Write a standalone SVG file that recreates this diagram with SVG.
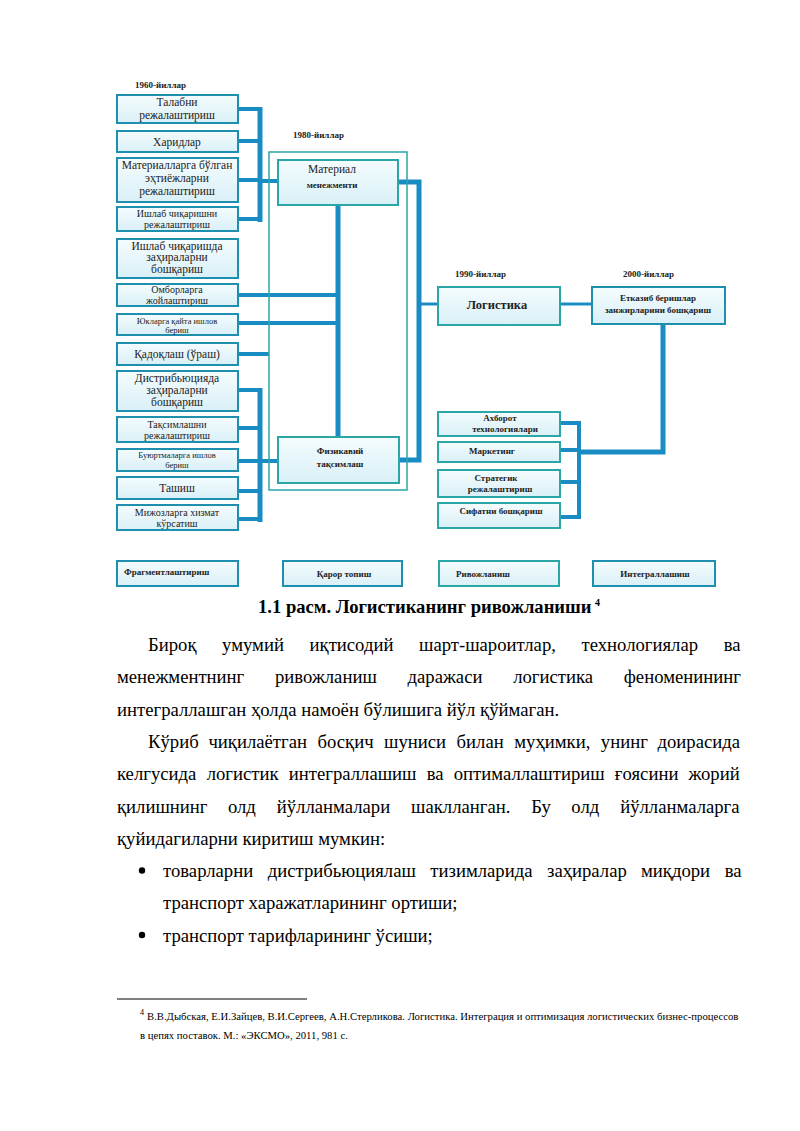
<svg xmlns="http://www.w3.org/2000/svg" width="800" height="1131" viewBox="0 0 800 1131">
<defs>
<linearGradient id="bg" x1="0" y1="0" x2="0" y2="1">
<stop offset="0" stop-color="#f4fcfe"/>
<stop offset="1" stop-color="#d9f0f7"/>
</linearGradient>
<style>
.box{fill:url(#bg);stroke:#1f8fb0;stroke-width:2}
.boxg{fill:url(#bg);stroke:#2aa6a6;stroke-width:2}
.frame{fill:none;stroke:#2aa6a6;stroke-width:1.5}
.t{font-family:"Liberation Serif","DejaVu Serif",serif;font-size:11.5px;fill:#222;text-anchor:middle}
.ts{font-family:"Liberation Serif","DejaVu Serif",serif;font-size:8.5px;fill:#222;text-anchor:middle}
.tm{font-family:"Liberation Serif","DejaVu Serif",serif;font-size:10px;fill:#222;text-anchor:middle}
.tb{font-family:"Liberation Serif","DejaVu Serif",serif;font-size:9px;font-weight:bold;fill:#222;text-anchor:middle}
.yr{font-family:"Liberation Serif","DejaVu Serif",serif;font-size:9px;font-weight:bold;fill:#222}
.c{stroke:#1a8cc4;fill:none;stroke-linecap:butt;stroke-linejoin:miter}
.w5{stroke-width:5}
.w4{stroke-width:4}
.w3{stroke-width:3}
.body{font-family:"Liberation Serif","DejaVu Serif",serif;font-size:18.7px;fill:#000}
.cap{font-family:"Liberation Serif","DejaVu Serif",serif;font-size:18.6px;font-weight:bold;fill:#000}
.fn{font-family:"Liberation Serif","DejaVu Serif",serif;font-size:10.7px;fill:#000}
</style>
</defs>
<rect width="800" height="1131" fill="#fff"/>

<!-- year labels -->
<text class="yr" x="135" y="88">1960-йиллар</text>
<text class="yr" x="293" y="138">1980-йиллар</text>
<text class="yr" x="455" y="277">1990-йиллар</text>
<text class="yr" x="623" y="277">2000-йиллар</text>

<!-- connectors -->
<g id="connectors">
<path class="c w5" d="M260 107V222"/>
<path class="c w4" d="M238 109H260M238 141H260M238 180H260M238 219H260M260 181H278"/>
<path class="c w5" d="M338 205V437"/>
<path class="c w4" d="M238 295H338M238 323H338"/>
<path class="c w4" d="M238 354H269"/>
<path class="c w5" d="M260 388V522"/>
<path class="c w4" d="M238 390H260M238 428H260M238 461H260M238 491H260M238 519H260M260 461H278"/>
<path class="c w5" d="M398 182H419V460H399"/>
<path class="c w3" d="M419 304H438"/>
<path class="c w3" d="M560 304H592"/>
<path class="c w5" d="M663 324V452H579"/>
<path class="c w4" d="M560 423H579V517H560M560 450H579M560 482H579"/>
</g>

<rect class="frame" x="269" y="152" width="138" height="338"/>

<!-- left column nodes -->
<g id="n1"><rect class="box" x="117" y="95" width="121" height="28"/><text class="t" x="177" y="106">Талабни</text><text class="t" x="177" y="118.5">режалаштириш</text></g>
<g id="n2"><rect class="box" x="117" y="131" width="121" height="21"/><text class="t" x="177" y="145.5">Харидлар</text></g>
<g id="n3"><rect class="box" x="117" y="158" width="121" height="44"/><text class="t" x="177" y="169">Материалларга бўлган</text><text class="t" x="177" y="181.5">эҳтиёжларни</text><text class="t" x="177" y="194.5">режалаштириш</text></g>
<g id="n4"><rect class="box" x="117" y="207" width="121" height="24"/><text class="tm" x="177" y="217">Ишлаб чиқаришни</text><text class="tm" x="177" y="228">режалаштириш</text></g>
<g id="n5"><rect class="box" x="117" y="239" width="121" height="39"/><text class="t" x="177" y="249.5">Ишлаб чиқаришда</text><text class="t" x="177" y="261">заҳираларни</text><text class="t" x="177" y="273">бошқариш</text></g>
<g id="n6"><rect class="box" x="117" y="284" width="121" height="22"/><text class="tm" x="177" y="293">Омборларга</text><text class="tm" x="177" y="303.5">жойлаштириш</text></g>
<g id="n7"><rect class="box" x="117" y="314" width="121" height="21"/><text class="ts" x="177" y="323.5">Юкларга қайта ишлов</text><text class="ts" x="177" y="333">бериш</text></g>
<g id="n8"><rect class="box" x="117" y="343" width="121" height="22"/><text class="t" x="177" y="358">Қадоқлаш (ўраш)</text></g>
<g id="n9"><rect class="box" x="117" y="371" width="121" height="40"/><text class="t" x="177" y="382">Дистрибьюцияда</text><text class="t" x="177" y="394">заҳираларни</text><text class="t" x="177" y="406">бошқариш</text></g>
<g id="n10"><rect class="box" x="117" y="417" width="121" height="25"/><text class="tm" x="177" y="428">Тақсимлашни</text><text class="tm" x="177" y="439">режалаштириш</text></g>
<g id="n11"><rect class="box" x="117" y="449" width="121" height="22"/><text class="ts" x="177" y="458">Буюртмаларга ишлов</text><text class="ts" x="177" y="468">бериш</text></g>
<g id="n12"><rect class="box" x="117" y="477" width="121" height="22"/><text class="t" x="177" y="492">Ташиш</text></g>
<g id="n13"><rect class="box" x="117" y="505" width="121" height="25"/><text class="tm" x="177" y="516">Мижозларга хизмат</text><text class="tm" x="177" y="527">кўрсатиш</text></g>

<!-- middle nodes -->
<g id="material"><rect class="boxg" x="278" y="160" width="120" height="45"/><text class="t" x="332" y="173">Материал</text><text class="tb" x="332" y="188">менежменти</text></g>
<g id="physical"><rect class="boxg" x="278" y="437" width="121" height="46"/><text class="tb" x="340" y="454">Физикавий</text><text class="tb" x="340" y="467">тақсимлаш</text></g>

<!-- right nodes -->
<g id="logistics"><rect class="boxg" x="438" y="287" width="122" height="38"/><text class="t" x="497" y="309" style="font-size:12.5px;font-weight:bold">Логистика</text></g>
<g id="supply"><rect class="box" x="592" y="287" width="133" height="37"/><text class="tb" x="658" y="301">Етказиб беришлар</text><text class="tb" x="658" y="313">занжирларини бошқариш</text></g>
<g id="it"><rect class="boxg" x="438" y="412" width="122" height="24"/><text class="tb" x="500" y="421">Ахборот</text><text class="tb" x="505" y="432">технологиялари</text></g>
<g id="marketing"><rect class="boxg" x="438" y="442" width="122" height="20"/><text class="tb" x="492" y="454">Маркетинг</text></g>
<g id="strategy"><rect class="boxg" x="438" y="470" width="122" height="27"/><text class="tb" x="496" y="481">Стратегик</text><text class="tb" x="500" y="492">режалаштириш</text></g>
<g id="quality"><rect class="boxg" x="438" y="503" width="122" height="25"/><text class="tb" x="501" y="514">Сифатни бошқариш</text></g>

<!-- bottom stage nodes -->
<g id="s1"><rect class="box" x="117" y="561" width="121" height="25"/><text class="tb" x="124" y="575" style="text-anchor:start">Фрагментлаштириш</text></g>
<g id="s2"><rect class="box" x="283" y="561" width="119" height="25"/><text class="tb" x="344" y="577">Қарор топиш</text></g>
<g id="s3"><rect class="boxg" x="439" y="561" width="120" height="25"/><text class="tb" x="456" y="577" style="text-anchor:start">Ривожланиш</text></g>
<g id="s4"><rect class="box" x="593" y="561" width="122" height="25"/><text class="tb" x="655" y="577">Интеграллашиш</text></g>

<!-- caption and body text -->
<text class="cap" x="258" y="613">1.1 расм. Логистиканинг ривожланиши</text>
<text class="cap" x="595" y="606" style="font-size:10px">4</text>

<text class="body" x="148" y="651">Бироқ<tspan dx="25.6">умумий</tspan><tspan dx="25.6">иқтисодий</tspan><tspan dx="25.6">шарт-шароитлар,</tspan><tspan dx="25.6">технологиялар</tspan><tspan dx="25.6">ва</tspan></text>
<text class="body" x="117" y="683.3">менежментнинг<tspan dx="30.7">ривожланиш</tspan><tspan dx="30.7">даражаси</tspan><tspan dx="30.7">логистика</tspan><tspan dx="30.7">феноменининг</tspan></text>
<text class="body" x="117" y="715.6">интеграллашган ҳолда намоён бўлишига йўл қўймаган.</text>

<text class="body" x="148" y="747.9">Кўриб<tspan dx="10.5">чиқилаётган</tspan><tspan dx="10.5">босқич</tspan><tspan dx="10.5">шуниси</tspan><tspan dx="10.5">билан</tspan><tspan dx="10.5">муҳимки,</tspan><tspan dx="10.5">унинг</tspan><tspan dx="10.5">доирасида</tspan></text>
<text class="body" x="117" y="780.2">келгусида<tspan dx="10.2">логистик</tspan><tspan dx="10.2">интеграллашиш</tspan><tspan dx="10.2">ва</tspan><tspan dx="10.2">оптималлаштириш</tspan><tspan dx="10.2">ғоясини</tspan><tspan dx="10.2">жорий</tspan></text>
<text class="body" x="117" y="812.5">қилишнинг<tspan dx="20.9">олд</tspan><tspan dx="20.9">йўлланмалари</tspan><tspan dx="20.9">шаклланган.</tspan><tspan dx="20.9">Бу</tspan><tspan dx="20.9">олд</tspan><tspan dx="20.9">йўлланмаларга</tspan></text>
<text class="body" x="117" y="844.8">қуйидагиларни киритиш мумкин:</text>

<circle cx="142" cy="870.5" r="3.2" fill="#000"/>
<text class="body" x="163" y="877.1">товарларни<tspan dx="14.5">дистрибьюциялаш</tspan><tspan dx="14.5">тизимларида</tspan><tspan dx="14.5">заҳиралар</tspan><tspan dx="14.5">миқдори</tspan><tspan dx="14.5">ва</tspan></text>
<text class="body" x="163" y="909.4">транспорт харажатларининг ортиши;</text>
<circle cx="142" cy="935" r="3.2" fill="#000"/>
<text class="body" x="163" y="941.7">транспорт тарифларининг ўсиши;</text>

<!-- footnote -->
<line x1="117" y1="999" x2="307" y2="999" stroke="#000" stroke-width="1"/>
<text class="fn" x="140" y="1015" style="font-size:8px">4</text>
<text class="fn" x="147" y="1020">В.В.Дыбская, Е.И.Зайцев, В.И.Сергеев, А.Н.Стерликова. Логистика. Интеграция и оптимизация логистических бизнес-процессов</text>
<text class="fn" x="140" y="1039">в цепях поставок. М.: «ЭКСМО», 2011, 981 с.</text>
</svg>
